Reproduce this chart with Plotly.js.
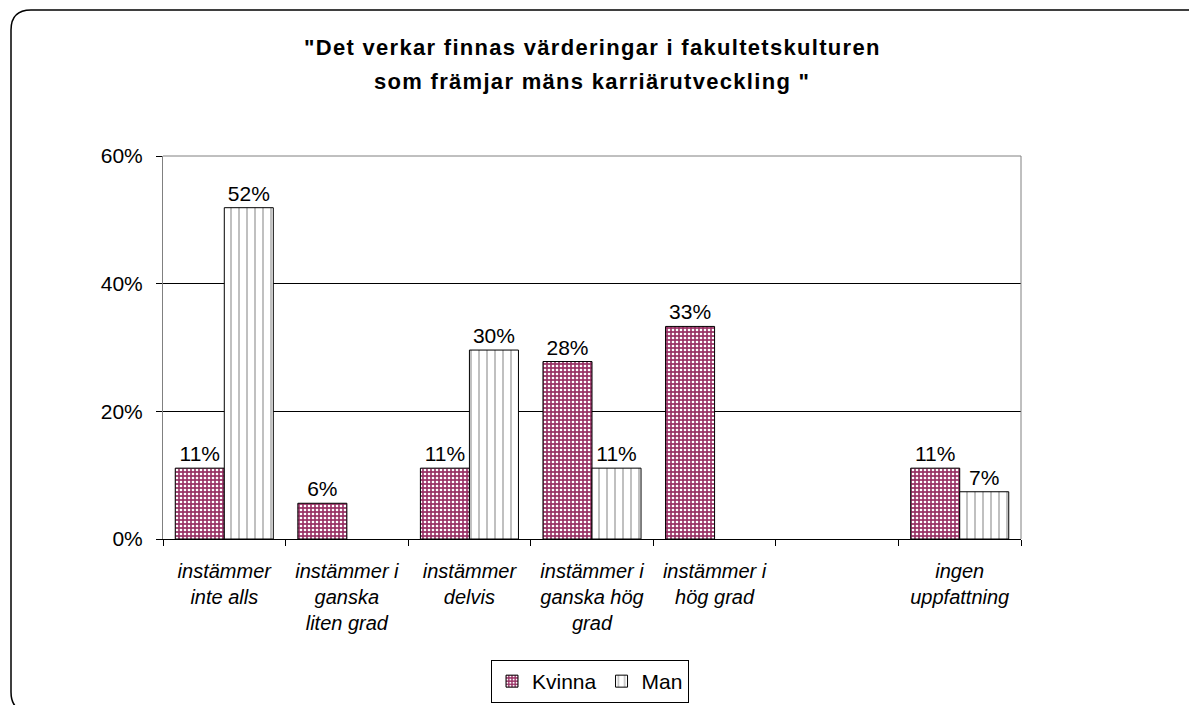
<!DOCTYPE html>
<html>
<head>
<meta charset="utf-8">
<script src="https://cdn.plot.ly/plotly-3.0.1.min.js"></script>
<style>
html,body{margin:0;padding:0;background:#fff;overflow:hidden;}
#chart{width:1189px;height:705px;}
.annotation-text{letter-spacing:1.3px;}
</style>
</head>
<body>
<div id="chart"></div>
<script>
// ---- data ----
const categories = [
  "instämmer<br>inte alls",
  "instämmer i<br>ganska<br>liten grad",
  "instämmer<br>delvis",
  "instämmer i<br>ganska hög<br>grad",
  "instämmer i<br>hög grad",
  "\u200b",
  "ingen<br>uppfattning"
];
const kvinna = [0.111, 0.056, 0.111, 0.278, 0.333, null, 0.111];
const man = [0.519, null, 0.296, 0.111, null, null, 0.074];
const seriesNames = ["Kvinna", "Man"];
const titleLines = ["\"Det verkar finnas värderingar i fakultetskulturen", "som främjar mäns karriärutveckling \""];
const yTicks = [0, 0.2, 0.4, 0.6];

// ---- layout helpers ----
const W = 1189, H = 705;
const L = 163, R = 1021, T = 156, B = 539;
const px = x => (x - L) / (R - L);
const py = y => (B - y) / (B - T);
const FAM = "Arial, 'Liberation Sans', sans-serif";

const labelFont = {family: FAM, size: 21, color: "#000"};

const traces = [
  {
    type: "bar", name: seriesNames[0], x: categories, y: kvinna,
    marker: {color: "#993366", line: {color: "#000", width: 1},
      pattern: {shape: ".", fgcolor: "#ffffff", bgcolor: "#993366", size: 4, solidity: 0.35, fillmode: "replace"}},
    text: kvinna.map(v => v == null ? "" : Math.round(v * 100) + "%"),
    textposition: "outside", textfont: labelFont, cliponaxis: false, hoverinfo: "skip"
  },
  {
    type: "bar", name: seriesNames[1], x: categories, y: man,
    marker: {color: "#ffffff", line: {color: "#000", width: 1},
      pattern: {shape: "|", fgcolor: "#c0c0c0", bgcolor: "#ffffff", size: 8, solidity: 0.25, fillmode: "replace"}},
    text: man.map(v => v == null ? "" : Math.round(v * 100) + "%"),
    textposition: "outside", textfont: labelFont, cliponaxis: false, hoverinfo: "skip"
  }
];

const borderPath = "M " + px(1210) + "," + py(712) +
  " L " + px(31) + "," + py(712) +
  " Q " + px(11) + "," + py(712) + " " + px(11) + "," + py(692) +
  " L " + px(11) + "," + py(30) +
  " Q " + px(11) + "," + py(10) + " " + px(31) + "," + py(10) +
  " L " + px(1210) + "," + py(10);

const layout = {
  width: W, height: H,
  margin: {l: L, r: W - R, t: T, b: H - B, pad: 0},
  paper_bgcolor: "#fff", plot_bgcolor: "#fff",
  font: {family: FAM, color: "#000", size: 20},
  barmode: "group", bargap: 0.2, bargroupgap: 0,
  showlegend: true,
  legend: {orientation: "h", xref: "container", yref: "container",
    x: 590 / W, xanchor: "center", y: (H - 703) / H, yanchor: "bottom",
    bordercolor: "#000", borderwidth: 1, font: {size: 21, family: FAM},
    itemwidth: 30, tracegroupgap: 0, traceorder: "normal"},
  xaxis: {
    type: "category", categoryorder: "array", categoryarray: categories,
    tickson: "boundaries", ticks: "outside", ticklen: 6, tickcolor: "#000",
    showline: true, linecolor: "#000", linewidth: 1, showgrid: false,
    tickfont: {family: FAM, size: 20, style: "italic", color: "#000"},
    ticklabelstandoff: 14, fixedrange: true, automargin: false
  },
  yaxis: {
    range: [0, 0.6], tickmode: "array", tickvals: yTicks, tickformat: ".0%",
    ticks: "outside", ticklen: 6, tickcolor: "#000",
    showline: true, linecolor: "#808080", linewidth: 1,
    showgrid: true, gridcolor: "#000", gridwidth: 1, zeroline: false,
    tickfont: {family: FAM, size: 21, color: "#000"},
    ticklabelstandoff: 9, fixedrange: true, automargin: false
  },
  shapes: [
    {type: "line", xref: "paper", yref: "paper", x0: 0, x1: 1, y0: 1, y1: 1, line: {color: "#808080", width: 1}, layer: "above"},
    {type: "line", xref: "paper", yref: "paper", x0: 1, x1: 1, y0: 0, y1: 1, line: {color: "#808080", width: 1}, layer: "above"},
    {type: "path", xref: "paper", yref: "paper", path: borderPath, line: {color: "#000", width: 1.5}, layer: "above"}
  ],
  annotations: [
    {xref: "paper", yref: "paper", x: 0.5, y: py(48), xanchor: "center", yanchor: "middle", showarrow: false,
      text: "<b>" + titleLines[0] + "</b>", font: {size: 22, family: FAM, color: "#000"}},
    {xref: "paper", yref: "paper", x: 0.5, y: py(82), xanchor: "center", yanchor: "middle", showarrow: false,
      text: "<b>" + titleLines[1] + "</b>", font: {size: 22, family: FAM, color: "#000"}}
  ]
};

Plotly.newPlot("chart", traces, layout, {displayModeBar: false, staticPlot: true});
</script>
</body>
</html>
